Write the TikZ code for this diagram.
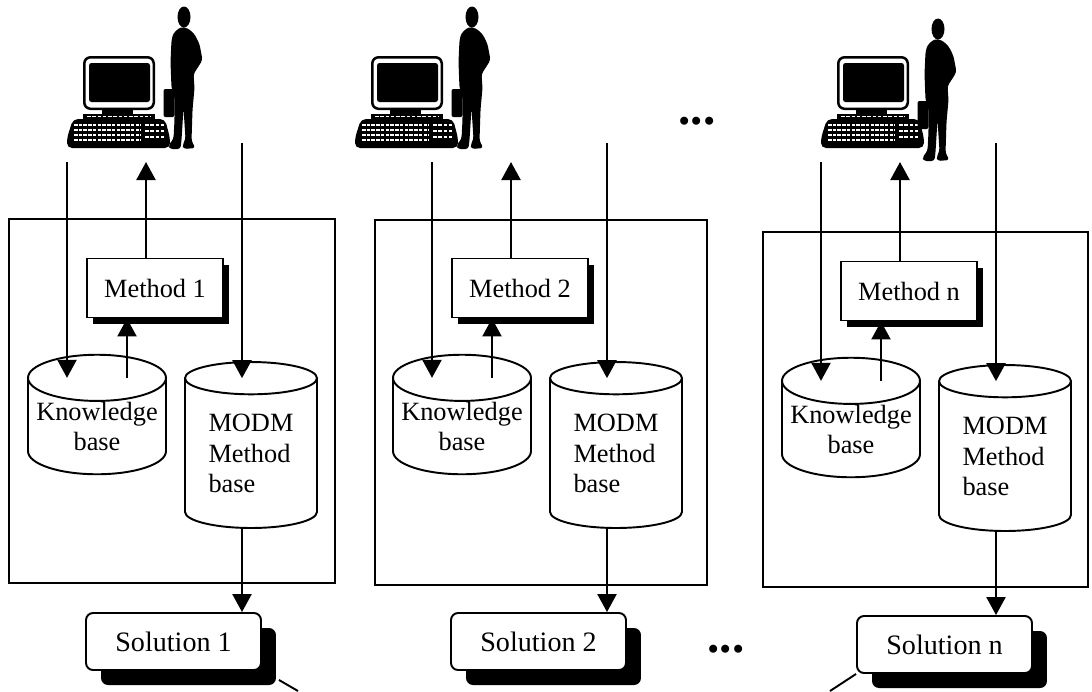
\documentclass[tikz,border=0pt]{standalone}
\usepackage{fontspec}
\setmainfont{Liberation Serif}
\usetikzlibrary{arrows.meta,shapes.geometric,shadows}

\tikzset{
  box/.style={line width=1.1pt},
  arr/.style={line width=1.3pt,-{Triangle[length=0.36cm,width=0.38cm]}},
  methodbox/.style={draw,fill=white,line width=1.1pt,minimum width=2.72cm,minimum height=1.18cm,
    drop shadow={shadow xshift=0.12cm,shadow yshift=-0.12cm,fill=black,opacity=1},
    font=\fontsize{15}{17.5}\selectfont},
  dbase/.style={cylinder,shape border rotate=90,draw,fill=white,line width=1.1pt,aspect=0.38,
    minimum width=2.76cm,minimum height=2.3cm,align=center,inner sep=0pt,anchor=shape center,
    font=\fontsize{15}{17.5}\selectfont},
  solbox/.style={draw,fill=white,rounded corners=0.14cm,line width=1.1pt,minimum width=3.5cm,
    minimum height=1.14cm,drop shadow={shadow xshift=0.3cm,shadow yshift=-0.3cm,fill=black,opacity=1},
    font=\fontsize{16}{18}\selectfont},
  dots/.style={font=\fontsize{28}{30}\selectfont\bfseries}
}

\begin{document}
\begin{tikzpicture}[x=0.02cm,y=-0.02cm]
\useasboundingbox (0,0) rectangle (1092,691);

% Users at their workstations
\foreach \ix/\py in {67/0,355/0,821/12} {
  \begin{scope}[shift={(\ix,0)}]
    % monitor
    \fill[rounded corners=1.5mm] (16,56) rectangle (88,110);
    \fill[white,rounded corners=1mm] (18.5,58.5) rectangle (85.5,107.5);
    \fill[rounded corners=0.5mm] (22,63) rectangle (83,102);
    \fill (35,110) rectangle (66,115);
    \fill (16,114) rectangle (88,119);
    \draw[white,line width=0.6pt,dash pattern=on 2pt off 1pt] (20,116.5) -- (84,116.5);
    % keyboard
    \fill[rounded corners=1mm] (6,119) -- (98,119) -- (103,138) -- (103,148) -- (0,148) -- (0,138) -- cycle;
    \foreach \ky in {125,130,135,140}
      \draw[white,line width=0.7pt,dash pattern=on 2pt off 0.7pt] (7,\ky) -- (74,\ky);
    \foreach \ky in {125,131,137}
      \draw[white,line width=0.9pt,dash pattern=on 2pt off 1pt] (78,\ky) -- (97,\ky);
  \end{scope}
  % person with briefcase
  \begin{scope}[shift={(\ix+116.5,\py)}]
    \fill (0.5,17) ellipse [x radius=6.5,y radius=10.5];
    \fill[rounded corners=0.6mm] (-3,27) -- (-10,33) -- (-12,40) -- (-13,62) -- (-12,88) -- (-9,96)
      -- (-9,120) -- (-10,139) -- (-15,145) -- (-14,149) -- (-3,149) -- (-2,140) -- (0,108)
      -- (2,139) -- (-1,145) -- (0,149) -- (12,148) -- (8,141) -- (9,110) -- (11,88) -- (10,74)
      -- (14,68) -- (19,60) -- (16,44) -- (11,34) -- (4,28) -- cycle;
    \fill[rounded corners=0.4mm] (-20,89) rectangle (-9,117);
  \end{scope}
}

% One panel per method
\foreach \n/\dx/\dy/\sx/\bl/\bt/\br/\bb in
  {1/0/0/0/9/219/335/583, 2/365/0/0/375/220/707/585, n/754/3/17/763/232/1088/587} {
  \draw[box] (\bl,\bt) rectangle (\br,\bb);

  \coordinate (a\n) at (\dx+67,162);
  \coordinate (u\n) at (\dx+146,162);
  \coordinate (b\n) at (\dx+242,143);
  \coordinate (k\n) at (\dx+127,0);

  \node[methodbox] (m\n) at (\dx+155,288+\dy) {Method \n};
  \node[dbase] (kb\n) at (\dx+97,414.5+\dy) {Knowledge\\base};
  \node[dbase,minimum width=2.64cm,minimum height=3.32cm,align=left] (mb\n) at (\dx+251,445+\dy)
    {MODM\\Method\\base};
  \node[solbox] (s\n) at (\dx+173.5+\sx,641.5+\dy) {Solution \n};

  \draw[arr] (a\n) -- (kb\n.before top -| a\n);
  \draw[arr] (m\n.north -| u\n) -- (u\n);
  \draw[arr] (b\n) -- (mb\n.before top -| b\n);
  \draw[arr] (kb\n.before top -| k\n) -- (m\n.south -| k\n);
  \draw[arr] (mb\n.bottom -| b\n) -- (s\n.north -| b\n);
}

% Leader lines running off the bottom
\coordinate (t1) at (298,691);
\coordinate (tn) at (830,691);
\draw[box] (s1.south east) ++(17,9) -- (t1);
\draw[box] (sn.south west) -- (tn);

% More panels in between
\node[dots] (d1) at (697,121) {...};
\node[dots] (d2) at (726,649) {...};
\end{tikzpicture}
\end{document}
